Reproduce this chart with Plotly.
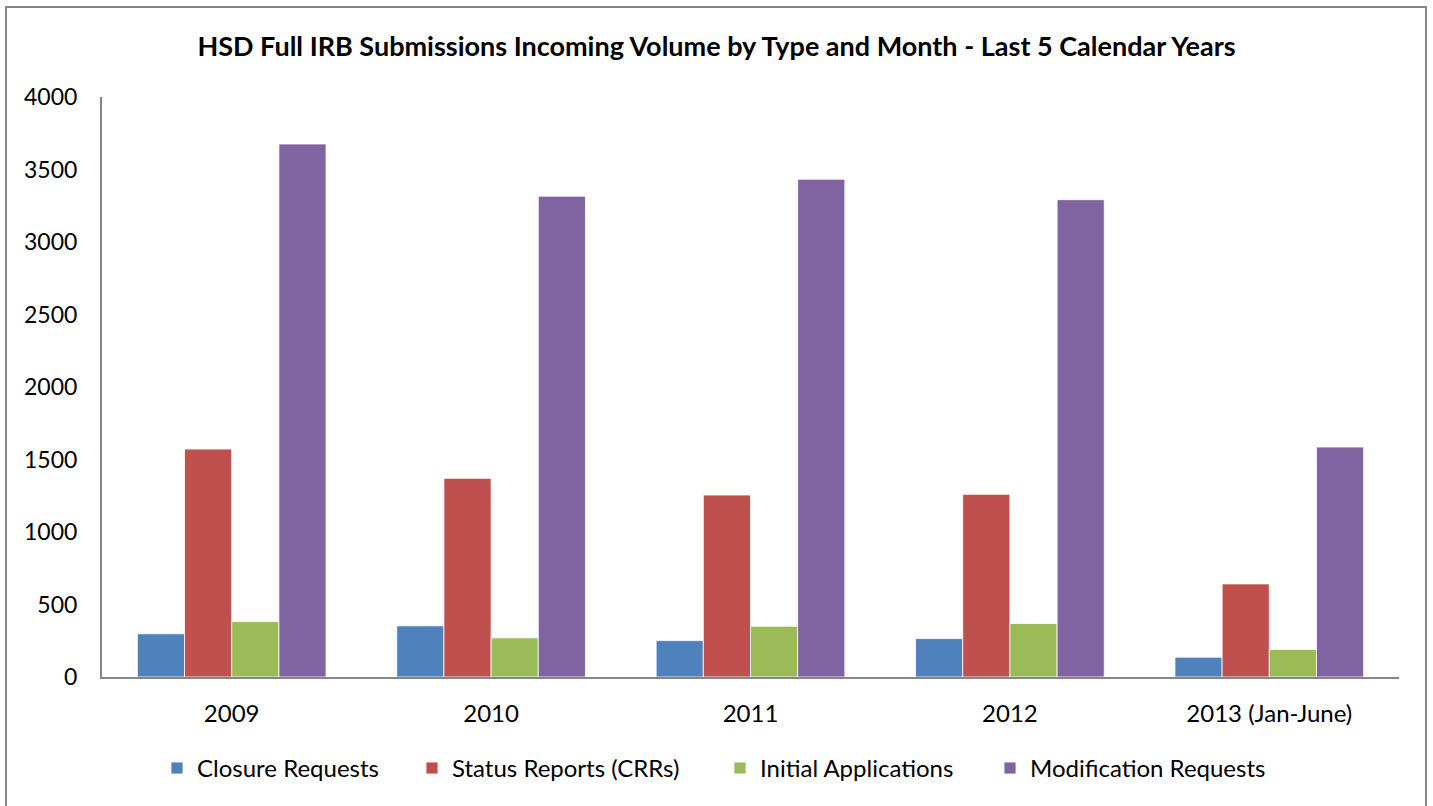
import plotly.graph_objects as go

categories = ["2009", "2010", "2011", "2012", "2013 (Jan-June)"]
closure_requests = [298, 353, 251, 265, 137]
status_reports = [1572, 1370, 1255, 1260, 642]
initial_applications = [382, 270, 350, 369, 190]
modification_requests = [3676, 3316, 3433, 3292, 1586]

series_names = ["Closure Requests", "Status Reports (CRRs)", "Initial Applications", "Modification Requests"]
series_values = [closure_requests, status_reports, initial_applications, modification_requests]
series_colors = ["#4F81BD", "#C0504D", "#9BBB59", "#8064A2"]
legend_ids = ["legend", "legend2", "legend3", "legend4"]
legend_left_px = [157, 412, 720, 990]  # left edge of each legend entry in pixels

FONT = "Lato, Carlito, Calibri, sans-serif"
PLOT_L, PLOT_R, PLOT_T, PLOT_B = 102, 1399, 97, 677.5
PW, PH = PLOT_R - PLOT_L, PLOT_B - PLOT_T

fig = go.Figure()
for name, vals, color, lg in zip(series_names, series_values, series_colors, legend_ids):
    fig.add_trace(go.Bar(
        x=categories, y=vals, name=name, legend=lg,
        marker=dict(color=color, line=dict(color="rgba(255,255,255,0.8)", width=1)),
    ))

legend_common = dict(
    orientation="h", yanchor="middle", y=(PLOT_B - 769) / PH, xanchor="left",
    font=dict(family=FONT, size=24, color="black"),
    bgcolor="rgba(0,0,0,0)", borderwidth=0,
)
legends = {}
for lg, left in zip(legend_ids, legend_left_px):
    legends[lg] = dict(legend_common, x=(left - PLOT_L) / PW)

fig.update_layout(
    width=1433, height=806,
    barmode="group", bargap=0.2725, bargroupgap=0,
    plot_bgcolor="white", paper_bgcolor="white",
    margin=dict(l=PLOT_L, r=1433 - PLOT_R, t=PLOT_T, b=806 - PLOT_B),
    font=dict(family=FONT, size=23, color="black"),
    title=dict(
        text="<b>HSD Full IRB Submissions Incoming Volume by Type and Month - Last 5 Calendar Years</b>",
        x=0.5, xanchor="center", y=1 - 47 / 806, yanchor="middle",
        font=dict(family=FONT, size=27, color="black"),
    ),
    showlegend=True,
    **legends,
)

fig.update_yaxes(
    range=[0, 4000], dtick=500, showgrid=False, zeroline=False,
    showline=True, linecolor="#868686", linewidth=2,
    ticks="", ticklabelstandoff=18,
    tickfont=dict(family=FONT, size=23, color="black"),
)
fig.update_xaxes(
    showgrid=False, showline=True, linecolor="#868686", linewidth=2,
    ticks="", ticklabelstandoff=14,
    tickfont=dict(family=FONT, size=24, color="black"),
)

fig.add_shape(
    type="rect", xref="paper", yref="paper",
    x0=(6 - PLOT_L) / PW, x1=(1426 - PLOT_L) / PW,
    y0=(PLOT_B - 830) / PH, y1=(PLOT_B - 7) / PH,
    line=dict(color="#868686", width=2), fillcolor="rgba(0,0,0,0)", layer="below",
)

fig.write_html(
    "out.html",
    config={"displayModeBar": False},
    post_script="document.body.style.margin='0';document.body.style.overflow='hidden';",
)
